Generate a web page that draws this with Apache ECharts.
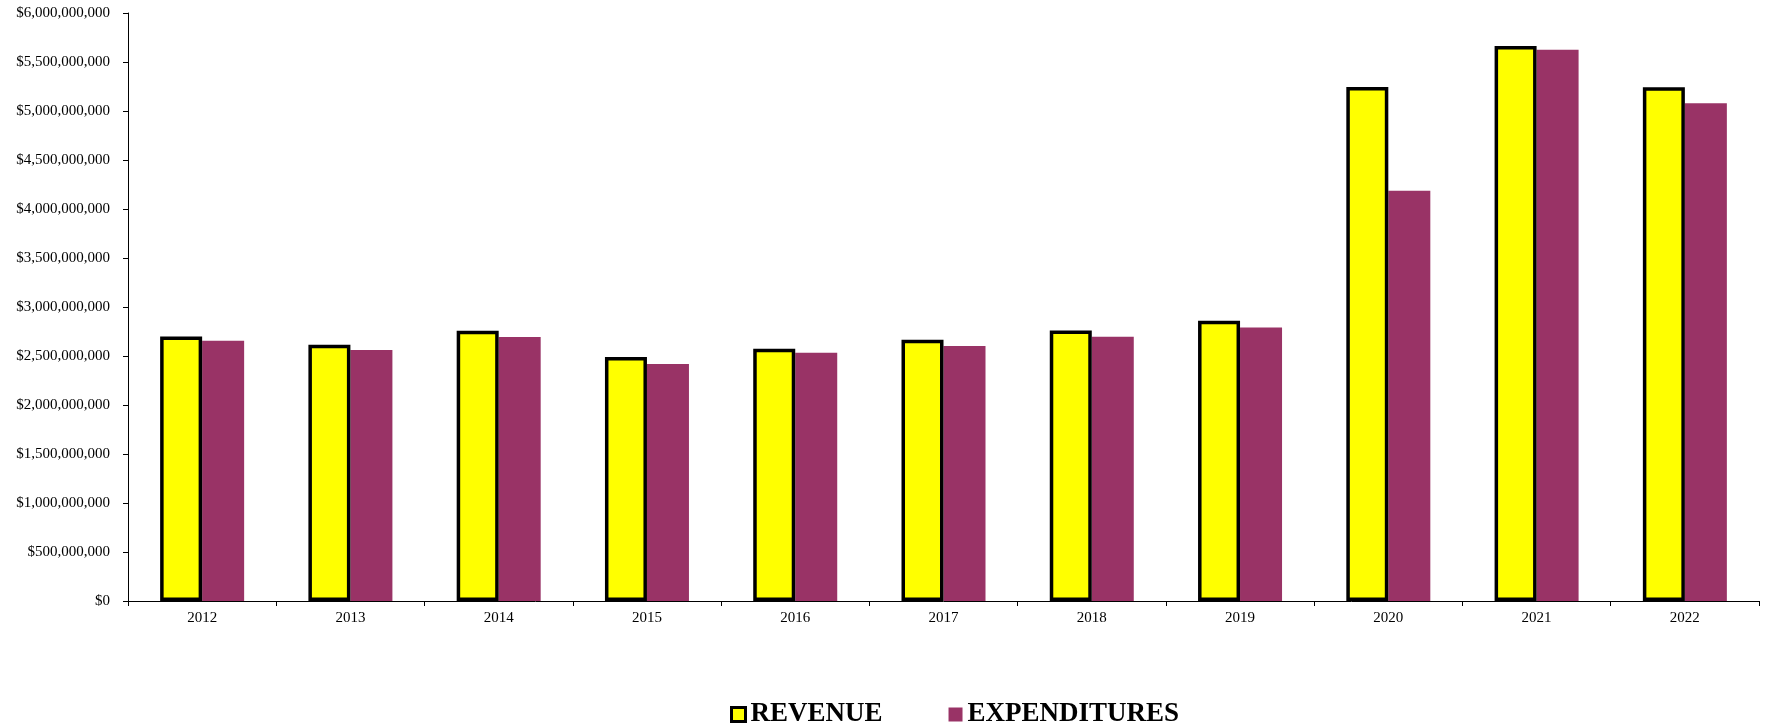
<!DOCTYPE html>
<html>
<head>
<meta charset="utf-8">
<script src="https://cdn.jsdelivr.net/npm/echarts@6/dist/echarts.min.js"></script>
<style>
html,body{margin:0;padding:0;background:#fff;}
#chart{width:1775px;height:726px;}
</style>
</head>
<body>
<div id="chart"></div>
<script>
const years = ['2012','2013','2014','2015','2016','2017','2018','2019','2020','2021','2022'];
const revenue = [2700000000, 2614000000, 2757000000, 2491000000, 2573000000, 2665000000, 2760000000, 2860000000, 5245000000, 5664000000, 5242000000];
const expenditures = [2655000000, 2561000000, 2694000000, 2418000000, 2533000000, 2602000000, 2697000000, 2790000000, 4185000000, 5625000000, 5080000000];
const yMin = 0, yMax = 6000000000, yStep = 500000000;

const fmt = v => '$' + Math.round(v).toString().replace(/\B(?=(\d{3})+(?!\d))/g, ',');
const font = 'Liberation Serif';

const chart = echarts.init(document.getElementById('chart'), null, {renderer: 'canvas'});
chart.setOption({
  animation: false,
  backgroundColor: '#fff',
  textStyle: {fontFamily: font, color: '#000'},
  grid: {left: 128, right: 16, top: 13, bottom: 125, containLabel: false},
  legend: {
    left: 730, top: 701, padding: 0,
    icon: 'rect', itemWidth: 14, itemHeight: 14, itemGap: 66,
    textStyle: {fontFamily: font, fontWeight: 'bold', fontSize: 27, color: '#000'},
    data: [
      {name: 'REVENUE', itemStyle: {color: '#ffff00', borderColor: '#000', borderWidth: 3}},
      {name: 'EXPENDITURES', itemStyle: {color: '#993366', borderWidth: 0}}
    ]
  },
  xAxis: {
    type: 'category', data: years,
    axisLine: {lineStyle: {color: '#000', width: 1}},
    axisTick: {show: true, length: 5, lineStyle: {color: '#000'}},
    axisLabel: {fontFamily: font, fontSize: 15, color: '#000', margin: 10}
  },
  yAxis: {
    type: 'value', min: yMin, max: yMax, interval: yStep,
    axisLine: {show: true, lineStyle: {color: '#000', width: 1}},
    axisTick: {show: true, length: 5, lineStyle: {color: '#000'}},
    splitLine: {show: false},
    axisLabel: {fontFamily: font, fontSize: 15, color: '#000', margin: 18, formatter: fmt}
  },
  series: [
    {name: 'REVENUE', type: 'bar', data: revenue, barWidth: 42, barGap: '0%', z: 3,
     itemStyle: {color: '#ffff00', borderColor: '#000', borderWidth: 3.5}},
    {name: 'EXPENDITURES', type: 'bar', data: expenditures, barWidth: 42, z: 2,
     itemStyle: {color: '#993366'}}
  ]
});
</script>
</body>
</html>
